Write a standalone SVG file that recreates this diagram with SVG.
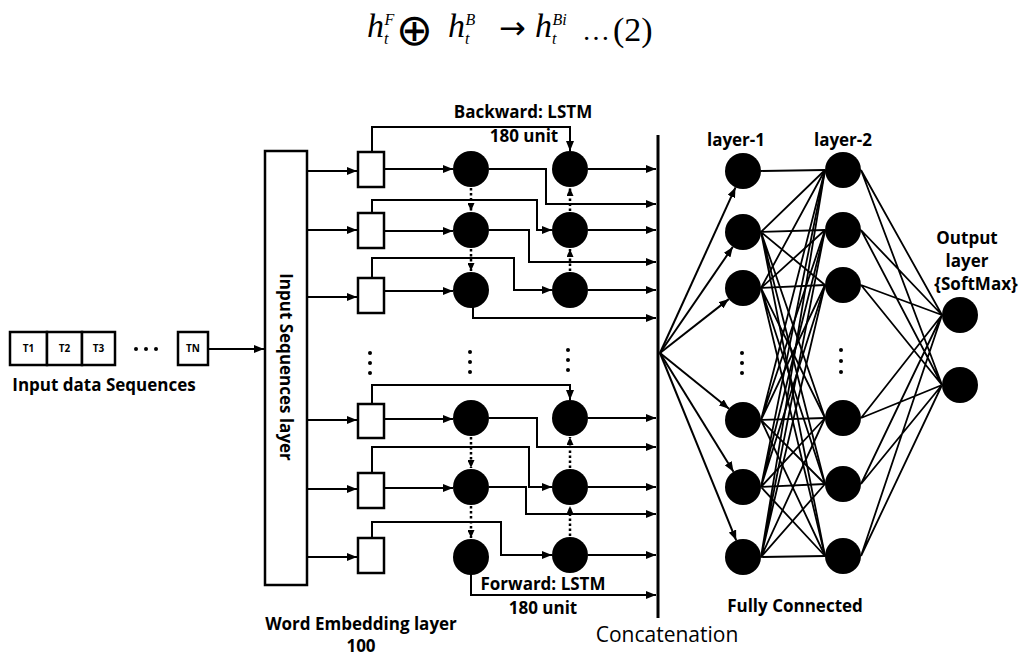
<svg xmlns="http://www.w3.org/2000/svg" width="1020" height="655" viewBox="0 0 1020 655">
<defs>
  <marker id="ah" markerUnits="userSpaceOnUse" markerWidth="10" markerHeight="8" refX="10" refY="4" orient="auto">
    <path d="M0,0 L10,4 L0,8 z" fill="#000"/>
  </marker>
  <marker id="ahs" markerUnits="userSpaceOnUse" markerWidth="8" markerHeight="7" refX="8" refY="3.5" orient="auto">
    <path d="M0,0 L8,3.5 L0,7 z" fill="#000"/>
  </marker>
</defs>
<style>
  .lbl{font-family:"Open Sans","Liberation Sans",sans-serif;font-weight:bold;font-size:17px;fill:#000}
  .tok{font-family:"Open Sans","Liberation Sans",sans-serif;font-weight:bold;font-size:10px;fill:#000}
  .ln{fill:none;stroke:#000;stroke-width:2}
  .fc{fill:none;stroke:#000;stroke-width:1.8}
  .arr{marker-end:url(#ah)}
  .darr{marker-end:url(#ahs);stroke-dasharray:2.5 2.5;stroke-width:2.5}
  .box{fill:#fff;stroke:#000;stroke-width:2.5}
  .node{fill:#000}
  .eq{font-family:"Liberation Serif",serif;font-style:italic;font-size:34px;fill:#000}
  .sub{font-size:16px}
  .sym{font-family:"DejaVu Sans",sans-serif;fill:#000}
  .vd{fill:#000}
</style>

<!-- equation: h_t^F (+) h_t^B -> h_t^Bi ...(2) -->
<g id="equation">
  <text class="eq" x="367" y="37">h<tspan class="sub" dy="7">t</tspan><tspan class="sub" dx="-4" dy="-19">F</tspan></text>
  <text class="sym" x="396" y="45" font-size="44">⊕</text>
  <text class="eq" x="448" y="37">h<tspan class="sub" dy="7">t</tspan><tspan class="sub" dx="-4" dy="-19">B</tspan></text>
  <text class="sym" x="499" y="39" font-size="32">→</text>
  <text class="eq" x="535" y="37">h<tspan class="sub" dy="7">t</tspan><tspan class="sub" dx="-4" dy="-19">Bi</tspan></text>
  <text x="582" y="40" font-size="28" font-family="Liberation Serif, serif">…</text>
  <text x="613" y="41" font-size="34" font-family="Liberation Serif, serif">(2)</text>
</g>

<!-- input tokens -->
<g id="tokens">
  <rect class="box" x="10" y="332" width="37" height="33"/>
  <rect class="box" x="47" y="332" width="35" height="33"/>
  <rect class="box" x="82" y="332" width="33" height="33"/>
  <rect class="box" x="178" y="332" width="30" height="33"/>
  <text class="tok" x="28.5" y="352" text-anchor="middle">T1</text>
  <text class="tok" x="64.5" y="352" text-anchor="middle">T2</text>
  <text class="tok" x="98.5" y="352" text-anchor="middle">T3</text>
  <text class="tok" x="193" y="352" text-anchor="middle">TN</text>
  <circle class="vd" cx="136" cy="349" r="2"/>
  <circle class="vd" cx="146" cy="349" r="2"/>
  <circle class="vd" cx="156" cy="349" r="2"/>
  <text class="lbl" x="104" y="391" text-anchor="middle" font-size="19">Input data Sequences</text>
</g>

<!-- input sequences layer -->
<g id="input-layer">
  <rect class="box" x="265" y="151" width="42" height="434"/>
  <text class="lbl" transform="translate(280,367) rotate(90)" text-anchor="middle" font-size="17.5">Input Sequences layer</text>
</g>

<!-- embedding cells -->
<g id="embeddings">
  <rect id="emb1" class="box" x="358" y="152" width="26" height="35"/>
  <rect id="emb2" class="box" x="358" y="213" width="26" height="35"/>
  <rect id="emb3" class="box" x="358" y="278" width="26" height="35"/>
  <rect id="emb4" class="box" x="358" y="404" width="26" height="34"/>
  <rect id="emb5" class="box" x="358" y="473" width="26" height="35"/>
  <rect id="emb6" class="box" x="358" y="538" width="26" height="35"/>
  <circle class="vd" cx="370" cy="353" r="2"/>
  <circle class="vd" cx="370" cy="363" r="2"/>
  <circle class="vd" cx="370" cy="373" r="2"/>
</g>

<!-- forward LSTM cells -->
<g id="forward">
  <circle id="f1" class="node" cx="471" cy="169" r="18"/>
  <circle id="f2" class="node" cx="471" cy="230" r="18"/>
  <circle id="f3" class="node" cx="471" cy="290" r="18"/>
  <circle id="f4" class="node" cx="471" cy="418" r="18"/>
  <circle id="f5" class="node" cx="471" cy="487" r="18"/>
  <circle id="f6" class="node" cx="471" cy="557" r="18"/>
  <circle class="vd" cx="470" cy="352" r="2"/>
  <circle class="vd" cx="470" cy="362" r="2"/>
  <circle class="vd" cx="470" cy="372" r="2"/>
</g>

<!-- backward LSTM cells -->
<g id="backward">
  <circle id="b1" class="node" cx="570" cy="169" r="18"/>
  <circle id="b2" class="node" cx="570" cy="230" r="18"/>
  <circle id="b3" class="node" cx="570" cy="290" r="18"/>
  <circle id="b4" class="node" cx="570" cy="418" r="18"/>
  <circle id="b5" class="node" cx="570" cy="487" r="18"/>
  <circle id="b6" class="node" cx="570" cy="555" r="18"/>
  <circle class="vd" cx="568" cy="350" r="2"/>
  <circle class="vd" cx="568" cy="360" r="2"/>
  <circle class="vd" cx="568" cy="370" r="2"/>
</g>

<!-- concatenation bar -->
<g id="concat">
  <line x1="658" y1="135" x2="658" y2="618" stroke="#000" stroke-width="3"/>
</g>

<!-- fully connected layer 1 -->
<g id="dense1">
  <circle id="d1a" class="node" cx="743" cy="171" r="18"/>
  <circle id="d1b" class="node" cx="743" cy="232" r="18"/>
  <circle id="d1c" class="node" cx="743" cy="288" r="18"/>
  <circle id="d1d" class="node" cx="743" cy="420" r="18"/>
  <circle id="d1e" class="node" cx="743" cy="487" r="18"/>
  <circle id="d1f" class="node" cx="743" cy="557" r="18"/>
  <circle class="vd" cx="742" cy="353" r="2"/>
  <circle class="vd" cx="742" cy="363" r="2"/>
  <circle class="vd" cx="742" cy="373" r="2"/>
</g>

<!-- fully connected layer 2 -->
<g id="dense2">
  <circle id="d2a" class="node" cx="843" cy="170" r="18"/>
  <circle id="d2b" class="node" cx="843" cy="230" r="18"/>
  <circle id="d2c" class="node" cx="843" cy="285" r="18"/>
  <circle id="d2d" class="node" cx="843" cy="418" r="18"/>
  <circle id="d2e" class="node" cx="843" cy="484" r="18"/>
  <circle id="d2f" class="node" cx="843" cy="556" r="18"/>
  <circle class="vd" cx="841" cy="350" r="2"/>
  <circle class="vd" cx="841" cy="361" r="2"/>
  <circle class="vd" cx="841" cy="372" r="2"/>
</g>

<!-- softmax output -->
<g id="output">
  <circle id="o1" class="node" cx="960" cy="315" r="18"/>
  <circle id="o2" class="node" cx="960" cy="385" r="18"/>
</g>

<!-- connectors -->
<g id="connectors">
  <!-- input layer to embeddings -->
  <line class="ln arr" x1="307" y1="171" x2="357" y2="171"/>
  <line class="ln arr" x1="307" y1="230" x2="357" y2="230"/>
  <line class="ln arr" x1="307" y1="297" x2="357" y2="297"/>
  <line class="ln arr" x1="307" y1="420" x2="357" y2="420"/>
  <line class="ln arr" x1="307" y1="489" x2="357" y2="489"/>
  <line class="ln arr" x1="307" y1="557" x2="357" y2="557"/>
  <line class="ln arr" x1="208" y1="349" x2="264" y2="349"/>
  <!-- embeddings to forward cells -->
  <line class="ln arr" x1="385" y1="169" x2="453" y2="169"/>
  <line class="ln arr" x1="385" y1="231" x2="453" y2="231"/>
  <line class="ln arr" x1="385" y1="291" x2="453" y2="291"/>
  <line class="ln arr" x1="385" y1="419" x2="453" y2="419"/>
  <line class="ln arr" x1="385" y1="488" x2="453" y2="488"/>
  <!-- embeddings to backward cells -->
  <path class="ln arr" d="M372,152 V127 H570 V151"/>
  <path class="ln arr" d="M372,213 V200 H537 V230 H552"/>
  <path class="ln arr" d="M372,278 V258 H514 V290 H552"/>
  <path class="ln arr" d="M372,404 V385 H570 V400"/>
  <path class="ln arr" d="M372,473 V447 H529 V487 H552"/>
  <path class="ln arr" d="M372,538 V522 H501 V555 H552"/>
  <!-- forward outputs -->
  <path class="ln arr" d="M489,169 H546 V204 H656"/>
  <path class="ln arr" d="M489,230 H529 V262 H656"/>
  <path class="ln arr" d="M473,307 V318 H656"/>
  <path class="ln arr" d="M489,418 H537 V447 H656"/>
  <path class="ln arr" d="M489,487 H526 V514 H656"/>
  <path class="ln arr" d="M471,574 V595 H656"/>
  <!-- backward outputs -->
  <line class="ln arr" x1="588" y1="169" x2="656" y2="169"/>
  <line class="ln arr" x1="588" y1="230" x2="656" y2="230"/>
  <line class="ln arr" x1="588" y1="290" x2="656" y2="290"/>
  <line class="ln arr" x1="588" y1="418" x2="656" y2="418"/>
  <line class="ln arr" x1="588" y1="487" x2="656" y2="487"/>
  <line class="ln arr" x1="588" y1="555" x2="656" y2="555"/>
  <!-- recurrent links -->
  <path class="ln darr" d="M471,188 V211"/>
  <path class="ln darr" d="M471,249 V271"/>
  <path class="ln darr" d="M471,437 V468"/>
  <path class="ln darr" d="M471,506 V538"/>
  <path class="ln darr" d="M570,271 V249"/>
  <path class="ln darr" d="M570,211 V188"/>
  <path class="ln darr" d="M570,536 V506"/>
  <path class="ln darr" d="M570,468 V437"/>
  <!-- concatenation to dense layer 1 -->
  <line class="ln arr" x1="660" y1="353" x2="735.5" y2="187.4"/>
  <line class="ln arr" x1="660" y1="353" x2="732.8" y2="246.9"/>
  <line class="ln arr" x1="660" y1="353" x2="728.8" y2="299.1"/>
  <line class="ln arr" x1="660" y1="353" x2="729" y2="408.7"/>
  <line class="ln arr" x1="660" y1="353" x2="733.5" y2="471.7"/>
  <line class="ln arr" x1="660" y1="353" x2="736.2" y2="540.3"/>
  <!-- dense 1 to dense 2 -->
  <path class="fc" d="M761,171 L825,170"/>
  <path class="fc" d="M761,232 L825,170 M761,232 L825,230 M761,232 L825,285 M761,232 L825,418 M761,232 L825,484 M761,232 L825,556"/>
  <path class="fc" d="M761,288 L825,170 M761,288 L825,230 M761,288 L825,285 M761,288 L825,418 M761,288 L825,484 M761,288 L825,556"/>
  <path class="fc" d="M761,420 L825,170 M761,420 L825,230 M761,420 L825,285 M761,420 L825,418 M761,420 L825,484 M761,420 L825,556"/>
  <path class="fc" d="M761,487 L825,170 M761,487 L825,230 M761,487 L825,285 M761,487 L825,418 M761,487 L825,484 M761,487 L825,556"/>
  <path class="fc" d="M761,557 L825,170 M761,557 L825,230 M761,557 L825,285 M761,557 L825,418 M761,557 L825,484 M761,557 L825,556"/>
  <!-- dense 2 to output -->
  <path class="fc" d="M861,170 L942,315 M861,170 L942,385 M861,230 L942,315 M861,230 L942,385 M861,285 L942,315 M861,285 L942,385 M861,418 L942,315 M861,418 L942,385 M861,484 L942,315 M861,484 L942,385 M861,556 L942,315 M861,556 L942,385"/>
</g>

<!-- labels -->
<g id="labels">
  <text class="lbl" x="523" y="118" text-anchor="middle">Backward: LSTM</text>
  <text class="lbl" x="524" y="142" text-anchor="middle">180 unit</text>
  <text class="lbl" x="543" y="590" text-anchor="middle">Forward: LSTM</text>
  <text class="lbl" x="543" y="614" text-anchor="middle">180 unit</text>
  <text class="lbl" x="361" y="630" text-anchor="middle">Word Embedding layer</text>
  <text class="lbl" x="361" y="652" text-anchor="middle">100</text>
  <text x="667" y="642" text-anchor="middle" font-family="'Open Sans', 'Liberation Sans', sans-serif" font-size="21">Concatenation</text>
  <text class="lbl" x="795" y="612" text-anchor="middle">Fully Connected</text>
  <text class="lbl" x="736" y="146" text-anchor="middle">layer-1</text>
  <text class="lbl" x="843" y="146" text-anchor="middle">layer-2</text>
  <text class="lbl" x="967" y="244" text-anchor="middle">Output</text>
  <text class="lbl" x="967" y="267" text-anchor="middle">layer</text>
  <text class="lbl" x="976" y="290" text-anchor="middle">{SoftMax}</text>
</g>
</svg>
